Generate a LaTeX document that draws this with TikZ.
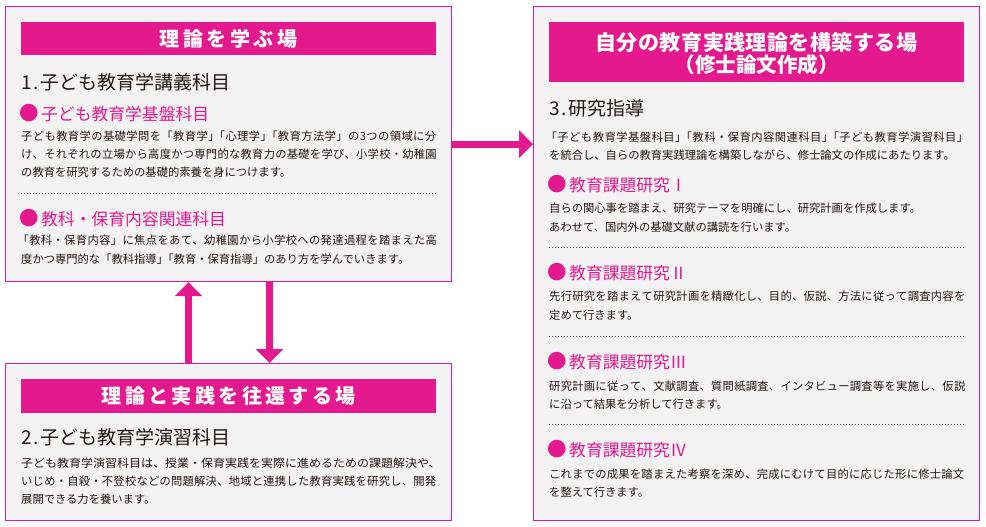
\documentclass[tikz,border=0pt]{standalone}
\usepackage{graphicx}
\usepackage{fontspec}
\setmainfont{Noto Sans CJK JP}
\usetikzlibrary{arrows.meta}
\definecolor{pk}{HTML}{E4198E}
\definecolor{bg}{HTML}{F2F2F2}
\definecolor{tx}{HTML}{231815}
\definecolor{dotc}{HTML}{555555}
\makeatletter
\newcommand\myspaced[2]{\def\my@k{#1}\my@loop#2\relax}
\def\my@loop#1{\ifx\relax#1\kern-\my@k\else #1\kern\my@k\expandafter\my@loop\fi}
\newcount\my@n
\newdimen\my@d
\newcommand\jline[2]{\setbox0\hbox{#2}\my@n=0 \my@cnt#2\relax
  \advance\my@n by -1 \my@d=\dimexpr(#1-\wd0)/\my@n\relax
  \edef\my@kk{\the\my@d}\hbox{\my@jloop#2\relax}}
\def\my@cnt#1{\ifx\relax#1\else\advance\my@n by 1 \expandafter\my@cnt\fi}
\def\my@jloop#1{\ifx\relax#1\kern-\my@kk\else #1\kern\my@kk\expandafter\my@jloop\fi}
\makeatother
\newcommand\kp{」\kern-.5em「}
\newcommand\ks{\kern-.35em}
\newcommand\bul{\kern-1.5pt{\fontsize{19.5}{19.5}\selectfont●}\kern2pt}
\tikzset{
  panel/.style={draw=pk, line width=1.2pt, fill=bg, anchor=north west, inner sep=0pt},
  hdr/.style={fill=pk, anchor=north west, inner sep=0pt, minimum width=415pt},
  hdrtext/.style={text=white, inner sep=0pt, font=\fontsize{20}{22}\selectfont\bfseries},
  ttl/.style={anchor=west, inner sep=0pt, text=tx, font=\fontsize{19}{21}\selectfont},
  sub/.style={anchor=west, inner sep=0pt, text=pk, font=\fontsize{16.8}{18}\selectfont},
  body/.style={anchor=west, inner sep=0pt, text=tx, font=\fontsize{11.3}{13}\selectfont},
  dotline/.style={draw=dotc, line width=0.9pt, dash pattern=on 0.9pt off 2.1pt},
  arr/.style={draw=pk, line width=7pt, -{Triangle[length=14pt,width=27pt]}}
}
\begin{document}
\begin{tikzpicture}[x=1pt,y=-1pt]
\useasboundingbox (0,0) rectangle (986,527);
% panels
\node[panel, minimum width=446pt, minimum height=275pt] (box1) at (5,6) {};
\node[panel, minimum width=446pt, minimum height=157pt] (box2) at (5,363) {};
\node[panel, minimum width=446pt, minimum height=514pt] (box3) at (533,6) {};
% headers
\node[hdr, minimum height=33pt] (h1) at (21,22) {};
\node[hdrtext] (h1t) at (h1.center) {\myspaced{3.5pt}{理論を学ぶ場}};
\node[hdr, minimum height=34pt] (h2) at (21,379) {};
\node[hdrtext] (h2t) at (h2.center) {\myspaced{3.4pt}{理論と実践を往還する場}};
\node[hdr, minimum height=60pt] (h3) at (549,22) {};
\node[hdrtext, font=\fontsize{21}{23}\selectfont\bfseries] (h3a) at (756.5,42) {\myspaced{0.5pt}{自分の教育実践理論を構築する場}};
\node[hdrtext, font=\fontsize{20.5}{22}\selectfont\bfseries] (h3b) at (756.5,65) {（修士論文作成）};
% box 1
\node[ttl] (t1) at (21,82) {1\kern2pt.\kern1.5pt子ども教育学講義科目};
\node[sub] (s1a) at (21,113) {\bul 子ども教育学基盤科目};
\node[body] (b1a) at (21,136) {\jline{415pt}{子ども教育学の基礎学問を「教育学\kp 心理学\kp 教育方法学」の3つの領域に分}};
\node[body] (b1b) at (21,154) {\jline{415pt}{け、それぞれの立場から高度かつ専門的な教育力の基礎を学び、小学校・幼稚園}};
\node[body] (b1c) at (21,172) {の教育を研究するための基礎的素養を身につけます。};
\draw[dotline] (21,193) -- (436,193);
\node[sub] (s1b) at (21,218) {\bul 教科・保育内容関連科目};
\node[body] (b1d) at (21,240) {\jline{415pt}{\ks「教科・保育内容」に焦点をあて、幼稚園から小学校への発達過程を踏まえた高}};
\node[body] (b1e) at (21,259) {度かつ専門的な「教科指導\kp 教育・保育指導」のあり方を学んでいきます。};
% box 2
\node[ttl] (t2) at (21,437) {2\kern2pt.\kern1.5pt子ども教育学演習科目};
\node[body] (b2a) at (21,463) {\scalebox{1.0615}[1]{子ども教育学演習科目は、授業・保育実践を実際に進めるための課題解決や、}};
\node[body] (b2b) at (21,481) {\jline{415pt}{いじめ・自殺・不登校などの問題解決、地域と連携した教育実践を研究し、開発}};
\node[body] (b2c) at (21,499) {展開できる力を養います。};
% box 3
\node[ttl] (t3) at (549,108) {3\kern2pt.\kern1.5pt研究指導};
\node[body] (b3a) at (549,137) {\jline{419pt}{\ks「子ども教育学基盤科目\kp 教科・保育内容関連科目\kp 子ども教育学演習科目」}};
\node[body] (b3b) at (549,155) {を統合し、自らの教育実践理論を構築しながら、修士論文の作成にあたります。};
\node[sub] (s3a) at (549,184) {\bul 教育課題研究Ⅰ};
\node[body] (b3c) at (549,208) {自らの関心事を踏まえ、研究テーマを明確にし、研究計画を作成します。};
\node[body] (b3d) at (549,227) {あわせて、国内外の基礎文献の講読を行います。};
\draw[dotline] (549,247) -- (964,247);
\node[sub] (s3b) at (549,272) {\bul 教育課題研究Ⅱ};
\node[body] (b3e) at (549,296) {\jline{415pt}{先行研究を踏まえて研究計画を精緻化し、目的、仮説、方法に従って調査内容を}};
\node[body] (b3f) at (549,315) {定めて行きます。};
\draw[dotline] (549,336) -- (964,336);
\node[sub] (s3c) at (549,361) {\bul 教育課題研究Ⅲ};
\node[body] (b3g) at (549,386) {\jline{415pt}{研究計画に従って、文献調査、質問紙調査、インタビュー調査等を実施し、仮説}};
\node[body] (b3h) at (549,404) {に沿って結果を分析して行きます。};
\draw[dotline] (549,424) -- (964,424);
\node[sub] (s3d) at (549,449) {\bul 教育課題研究Ⅳ};
\node[body] (b3i) at (549,474) {\jline{415pt}{これまでの成果を踏まえた考察を深め、完成にむけて目的に応じた形に修士論文}};
\node[body] (b3j) at (549,492) {を整えて行きます。};
% arrows
\draw[arr] (box1.east) -- (box1.east -| box3.west);
\draw[arr] ([xshift=183.5pt]box2.north west) -- ([xshift=183.5pt]box1.south west);
\draw[arr] ([xshift=264.5pt]box1.south west) -- ([xshift=264.5pt]box2.north west);
\end{tikzpicture}
\end{document}
